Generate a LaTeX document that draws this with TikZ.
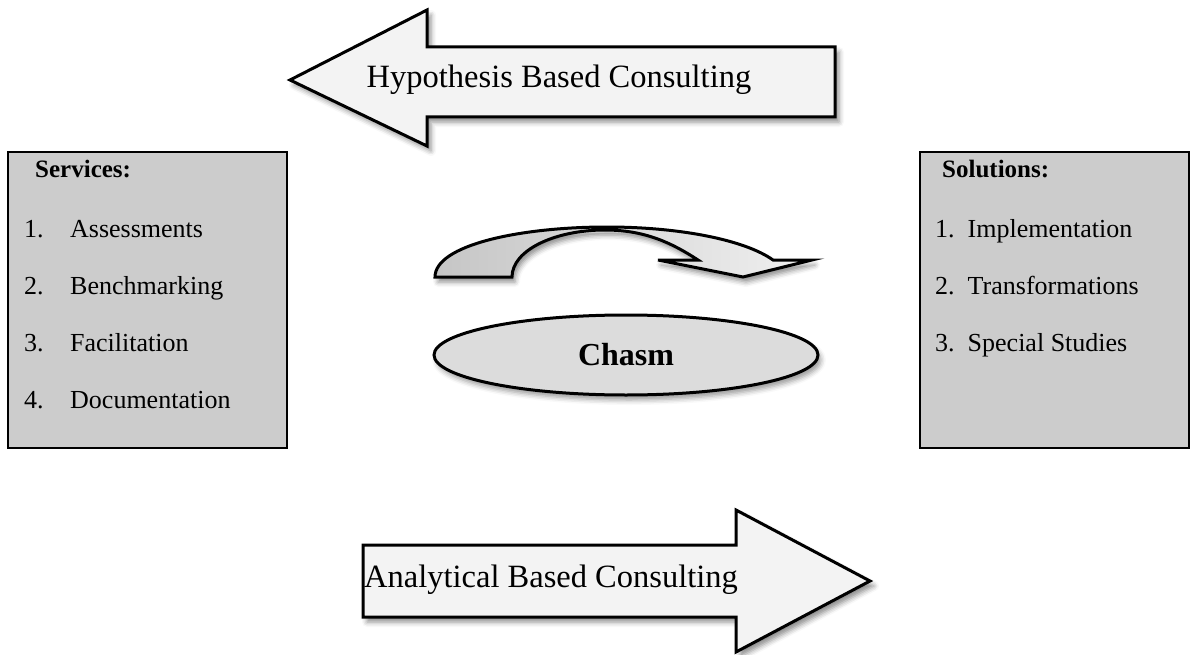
\documentclass[tikz,border=0pt]{standalone}
\usepackage{fontspec}
\setmainfont{Liberation Serif}
\usetikzlibrary{shadows.blur}
\definecolor{boxgray}{HTML}{CCCCCC}
\definecolor{arrowfill}{HTML}{F3F3F3}
\definecolor{ellfill}{HTML}{DCDCDC}
\begin{document}
\begin{tikzpicture}[x=1pt,y=-1pt,
  bigarrow/.style={draw=black,line width=3pt,line join=miter,fill=arrowfill,
    blur shadow={shadow xshift=4pt,shadow yshift=-5pt,shadow blur radius=5pt,shadow opacity=45}},
  listbox/.style={draw=black,line width=2.5pt,fill=boxgray},
  arrowtext/.style={font=\fontsize{32.5}{38}\selectfont,inner sep=0pt},
  itemtext/.style={font=\fontsize{26}{30}\selectfont,anchor=base west,inner sep=0pt},
  headtext/.style={font=\fontsize{25}{28}\selectfont\bfseries,anchor=base west,inner sep=0pt}]
\useasboundingbox (0,0) rectangle (1190,655);
% top arrow (left-pointing)
\path[bigarrow] (290,80) -- (427,10) -- (427,47) -- (835,47) -- (835,117) -- (427,117) -- (427,146) -- cycle;
\node[arrowtext] (hyp) at (559,80) {Hypothesis Based Consulting};
% bottom arrow (right-pointing)
\path[bigarrow] (363,545) -- (736,545) -- (736,510) -- (870,581) -- (736,652) -- (736,617) -- (363,617) -- cycle;
\node[arrowtext] (ana) at (551,580) {Analytical Based Consulting};
% left box
\path[listbox] (8,152) rectangle (287,448);
\node[headtext] (serv) at (35,178) {Services:};
\node[itemtext] (s1n) at (24,237) {1.};
\node[itemtext] (s1) at (70,237) {Assessments};
\node[itemtext] (s2n) at (24,294) {2.};
\node[itemtext] (s2) at (70,294) {Benchmarking};
\node[itemtext] (s3n) at (24,351) {3.};
\node[itemtext] (s3) at (70,351) {Facilitation};
\node[itemtext] (s4n) at (24,408) {4.};
\node[itemtext] (s4) at (70,408) {Documentation};
% right box
\path[listbox] (920,152) rectangle (1189,448);
\node[headtext] (sol) at (942,178) {Solutions:};
\node[itemtext] (r1) at (935,237) {1.\ \ Implementation};
\node[itemtext] (r2) at (935,294) {2.\ \ Transformations};
\node[itemtext] (r3) at (935,351) {3.\ \ Special Studies};
% curved arrow
\path[draw=black,line width=3pt,line join=miter,left color=gray!45,right color=gray!12,
    blur shadow={shadow xshift=3pt,shadow yshift=-5pt,shadow blur radius=5pt,shadow opacity=45}]
  (435,277) .. controls (435,245) and (520,227) .. (607,227)
  .. controls (680,227) and (745,240) .. (773,260) -- (812,260) -- (743,277) -- (658,260) -- (698,260)
  .. controls (672,243) and (645,230) .. (605,230)
  .. controls (555,230) and (512,250) .. (512,277) -- cycle;
% chasm ellipse
\path[draw=black,line width=3pt,fill=ellfill,
    blur shadow={shadow xshift=3pt,shadow yshift=-5pt,shadow blur radius=5pt,shadow opacity=40}]
  (626,355) ellipse [x radius=192pt,y radius=40pt];
\node[font=\fontsize{32}{36}\selectfont\bfseries,inner sep=0pt] (chasm) at (626,355) {Chasm};
\end{tikzpicture}
\end{document}
